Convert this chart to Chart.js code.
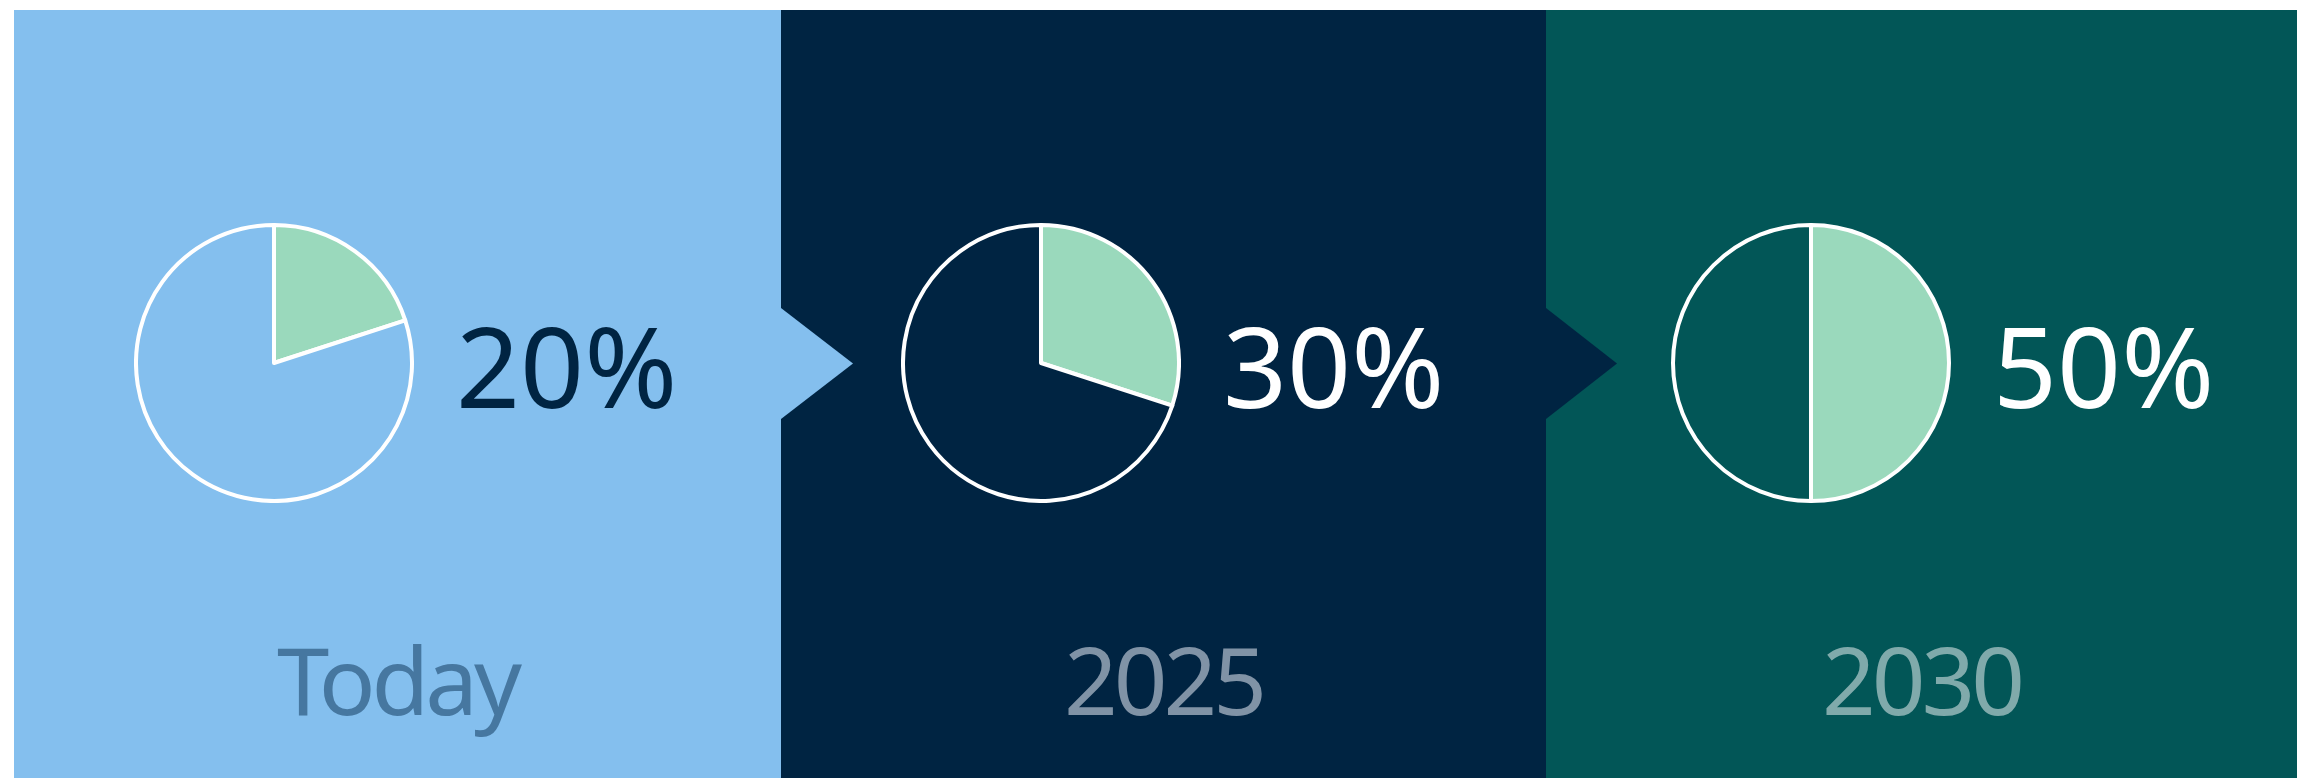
<!DOCTYPE html>
<html lang="en">

<head>
    <meta charset="UTF-8">
    <title>Share over time</title>
    <style>
        body {
            margin: 0;
            padding: 0;
            background-color: #ffffff;
            width: 2297px;
            height: 778px;
            overflow: hidden;
            font-family: "Noto Sans", "Open Sans", sans-serif;
        }

        .panel {
            position: absolute;
            top: 10px;
            height: 768px;
        }

        .arrow {
            position: absolute;
            top: 308px;
            height: 111px;
            clip-path: polygon(0 0, 100% 50%, 0 100%);
        }

        .pie {
            position: absolute;
            top: 223px;
            width: 280px;
            height: 280px;
        }

        .pct {
            position: absolute;
            top: 309px;
            font-size: 112px;
            line-height: 1;
            white-space: nowrap;
        }

        .label {
            position: absolute;
            top: 632px;
            font-size: 94px;
            line-height: 1;
            letter-spacing: -4px;
            text-align: center;
            white-space: nowrap;
        }
    </style>
</head>

<body>
    <div id="stage"></div>

    <script src="https://cdn.jsdelivr.net/npm/chart.js"></script>

    <script>
        // data
        const categories = ['Today', '2025', '2030'];
        const shares = [20, 30, 50];

        // look of each panel
        const panels = [
            { left: 14, width: 767, bg: '#84bfee', pctColor: '#002442', labelColor: '#4677a0' },
            { left: 781, width: 765, bg: '#002442', pctColor: '#ffffff', labelColor: '#8093a6' },
            { left: 1546, width: 751, bg: '#025657', pctColor: '#ffffff', labelColor: '#80aaab' }
        ];
        const GREEN = '#9ad9bc';

        const stage = document.getElementById('stage');

        panels.forEach(function (p, i) {
            var panel = document.createElement('div');
            panel.className = 'panel';
            panel.style.left = p.left + 'px';
            panel.style.width = p.width + 'px';
            panel.style.background = p.bg;
            stage.appendChild(panel);
        });

        // arrows pointing into the next panel
        for (var i = 1; i < panels.length; i++) {
            var arrow = document.createElement('div');
            arrow.className = 'arrow';
            arrow.style.left = panels[i].left + 'px';
            arrow.style.width = (i == 1 ? 72 : 71) + 'px';
            arrow.style.background = panels[i - 1].bg;
            stage.appendChild(arrow);
        }

        panels.forEach(function (p, i) {
            var cx = [274, 1041, 1811][i];

            var holder = document.createElement('div');
            holder.className = 'pie';
            holder.style.left = (cx - 140) + 'px';
            var canvas = document.createElement('canvas');
            canvas.width = 280;
            canvas.height = 280;
            holder.appendChild(canvas);
            stage.appendChild(holder);

            new Chart(canvas.getContext('2d'), {
                type: 'pie',
                data: {
                    labels: ['share', 'rest'],
                    datasets: [{
                        data: [shares[i], 100 - shares[i]],
                        backgroundColor: [GREEN, p.bg],
                        borderColor: '#ffffff',
                        borderWidth: 4,
                        borderJoinStyle: 'round'
                    }]
                },
                options: {
                    responsive: false,
                    animation: false,
                    layout: { padding: 0 },
                    plugins: {
                        legend: { display: false },
                        tooltip: { enabled: false }
                    }
                }
            });

            var pct = document.createElement('div');
            pct.className = 'pct';
            pct.style.left = (cx + 182) + 'px';
            pct.style.color = p.pctColor;
            pct.textContent = shares[i] + '%';
            stage.appendChild(pct);

            var label = document.createElement('div');
            label.className = 'label';
            label.style.left = p.left + 'px';
            label.style.width = p.width + 'px';
            label.style.color = p.labelColor;
            label.textContent = categories[i];
            stage.appendChild(label);
        });
    </script>
</body>

</html>
